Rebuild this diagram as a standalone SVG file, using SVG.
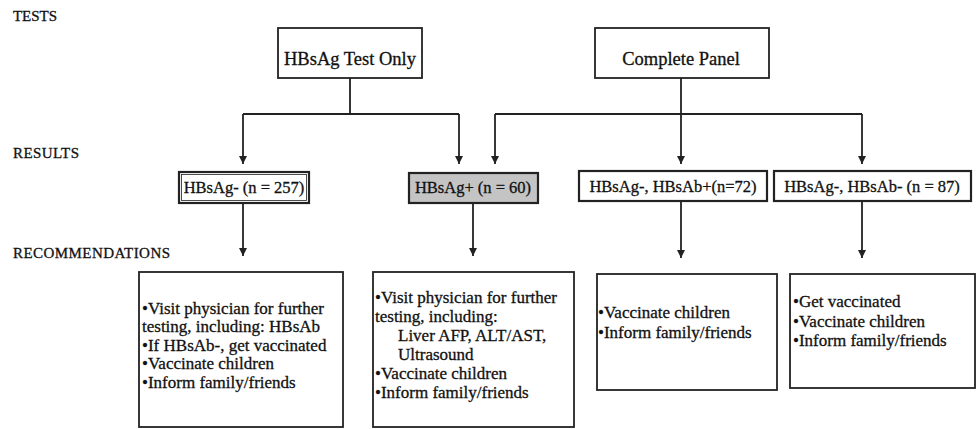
<svg xmlns="http://www.w3.org/2000/svg" width="978" height="429" viewBox="0 0 978 429">
<style>
text{font-family:"Liberation Serif","Times New Roman",serif;fill:#111;stroke:#111;stroke-width:0.3}
.hdr{font-size:15px}
.top{font-size:18.5px;text-anchor:middle}
.res{font-size:16.5px;text-anchor:middle}
.rec{font-size:17px}
.box{fill:#fff;stroke:#222;stroke-width:1.8}
.rbox{fill:#fff;stroke:#222;stroke-width:2.2}
.gray{fill:#c4c4c4}
.ln{fill:none;stroke:#222;stroke-width:1.8}
</style>
<defs>
<marker id="ah" viewBox="0 0 10 10" refX="10" refY="5" markerWidth="8" markerHeight="8" markerUnits="userSpaceOnUse" orient="auto">
<path d="M0,0 L10,5 L0,10 z" fill="#222"/>
</marker>
</defs>
<g id="labels">
<text class="hdr" x="13" y="21" textLength="44">TESTS</text>
<text class="hdr" x="13" y="158" textLength="66">RESULTS</text>
<text class="hdr" x="13" y="258" textLength="157">RECOMMENDATIONS</text>
</g>
<g id="connectors">
<path class="ln" d="M350,78 V114 M243,114 H459"/>
<path class="ln" d="M243,114 V164" marker-end="url(#ah)"/>
<path class="ln" d="M459,114 V164" marker-end="url(#ah)"/>
<path class="ln" d="M681,78 V114 M495,114 H862"/>
<path class="ln" d="M495,114 V164" marker-end="url(#ah)"/>
<path class="ln" d="M681,114 V164" marker-end="url(#ah)"/>
<path class="ln" d="M862,114 V164" marker-end="url(#ah)"/>
<path class="ln" d="M243,204 V256" marker-end="url(#ah)"/>
<path class="ln" d="M473,204 V256" marker-end="url(#ah)"/>
<path class="ln" d="M681,202 V258" marker-end="url(#ah)"/>
<path class="ln" d="M862,202 V258" marker-end="url(#ah)"/>
</g>
<g id="test-only">
<rect class="box" x="278" y="28" width="144" height="50"/>
<text class="top" x="350" y="65">HBsAg Test Only</text>
</g>
<g id="complete-panel">
<rect class="box" x="595" y="28" width="174" height="50"/>
<text class="top" x="681" y="65">Complete Panel</text>
</g>
<g id="res-neg">
<rect class="rbox" x="179" y="172" width="130" height="31"/>
<rect x="181.5" y="174.5" width="125" height="26" fill="none" stroke="#222" stroke-width="0.8"/>
<text class="res" x="244" y="193">HBsAg- (n = 257)</text>
</g>
<g id="res-pos">
<rect class="rbox gray" x="409" y="173" width="129" height="30"/>
<text class="res" x="473" y="193">HBsAg+ (n = 60)</text>
</g>
<g id="res-abpos">
<rect class="rbox" x="579" y="171" width="188" height="30"/>
<text class="res" x="673" y="192">HBsAg-, HBsAb+(n=72)</text>
</g>
<g id="res-abneg">
<rect class="rbox" x="774" y="171" width="197" height="30"/>
<text class="res" x="872" y="192">HBsAg-, HBsAb- (n = 87)</text>
</g>
<g id="rec-neg">
<rect class="box" x="139" y="272" width="204" height="155"/>
<text class="rec" x="142" y="314">•Visit physician for further</text>
<text class="rec" x="142" y="332">testing, including: HBsAb</text>
<text class="rec" x="142" y="351">•If HBsAb-, get vaccinated</text>
<text class="rec" x="142" y="369">•Vaccinate children</text>
<text class="rec" x="142" y="388">•Inform family/friends</text>
</g>
<g id="rec-pos">
<rect class="box" x="373" y="272" width="201" height="155"/>
<text class="rec" x="375" y="303">•Visit physician for further</text>
<text class="rec" x="375" y="322">testing, including:</text>
<text class="rec" x="398" y="341">Liver AFP, ALT/AST,</text>
<text class="rec" x="398" y="360">Ultrasound</text>
<text class="rec" x="375" y="379">•Vaccinate children</text>
<text class="rec" x="375" y="398">•Inform family/friends</text>
</g>
<g id="rec-abpos">
<rect class="box" x="597" y="274" width="180" height="116"/>
<text class="rec" x="598" y="318">•Vaccinate children</text>
<text class="rec" x="598" y="338">•Inform family/friends</text>
</g>
<g id="rec-abneg">
<rect class="box" x="790" y="274" width="185" height="114"/>
<text class="rec" x="793" y="307">•Get vaccinated</text>
<text class="rec" x="793" y="327">•Vaccinate children</text>
<text class="rec" x="793" y="346">•Inform family/friends</text>
</g>
</svg>
